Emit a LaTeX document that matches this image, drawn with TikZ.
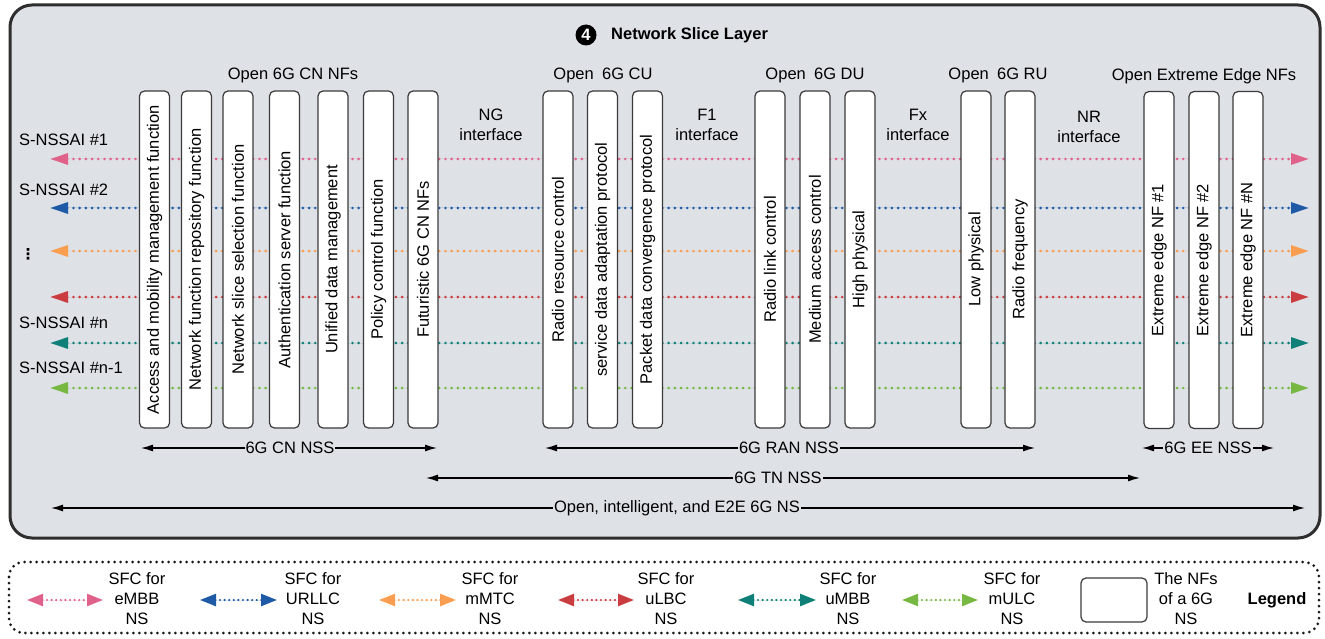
\documentclass[tikz,border=0pt]{standalone}
\usepackage{fontspec}
\setmainfont{Liberation Sans}
\newfontfamily\symfont{DejaVu Sans}
\usetikzlibrary{arrows.meta}

\definecolor{panelfill}{HTML}{DEE1E6}
\definecolor{panelline}{HTML}{2E2E2E}
\definecolor{boxline}{HTML}{3A3A3A}
\definecolor{cpink}{HTML}{E0628A}
\definecolor{cblue}{HTML}{1F5AA6}
\definecolor{corange}{HTML}{F99D51}
\definecolor{cred}{HTML}{CA3C3F}
\definecolor{cteal}{HTML}{0F8078}
\definecolor{cgreen}{HTML}{77B843}

\begin{document}
\begin{tikzpicture}[x=1pt,y=-1pt,
  every node/.style={font=\fontsize{16.5}{20}\selectfont, inner sep=0pt},
  nf/.style={draw=boxline, fill=white, line width=1.2pt, rounded corners=5pt,
    rotate=90, minimum width=337pt, minimum height=30pt, inner sep=0pt},
  slice/.style={line width=2.9pt, dash pattern=on 0pt off 6.2pt, line cap=round,
    {Triangle[length=18pt,width=11pt]}-{Triangle[length=18pt,width=11pt]}},
  keyslice/.style={line width=2.4pt, dash pattern=on 0pt off 4.6pt, line cap=round,
    {Triangle[length=16pt,width=12pt]}-{Triangle[length=16pt,width=12pt]}},
  span/.style={line width=1.3pt, {Latex[length=12pt,width=7pt]}-{Latex[length=12pt,width=7pt]}},
  spanlbl/.style={fill=panelfill, inner xsep=1pt, inner ysep=2pt},
  grp/.style={align=center},
  keytext/.style={align=center},
]
\useasboundingbox (0,0) rectangle (1325,639);

% layer panel
\draw[line width=3pt, draw=panelline, fill=panelfill, rounded corners=22pt]
  (10,5) rectangle (1320,538);

% title
\node[circle, fill=black, text=white, minimum size=21pt,
  font=\fontsize{16.5}{20}\selectfont\bfseries] (num) at (586,35) {4};
\node[anchor=west, font=\fontsize{16.5}{20}\selectfont\bfseries] (title) at (611,35) {Network Slice Layer};

% slice service function chains
\foreach \y/\c [count=\i] in {159/cpink, 208/cblue, 251/corange, 297/cred, 343/cteal, 388/cgreen}{
  \coordinate (sl\i) at (50,\y);
  \coordinate (sr\i) at (1309,\y);
  \draw[slice, draw=\c, fill=\c] (sl\i) -- (sr\i);
}

% slice identifiers
\node[anchor=west] (id1) at (19,140) {S-NSSAI \#1};
\node[anchor=west] (id2) at (19,190) {S-NSSAI \#2};
\node[font=\symfont\fontsize{15}{18}\selectfont\bfseries] (idd) at (28,254) {⋮};
\node[anchor=west] (idn) at (19,323) {S-NSSAI \#n};
\node[anchor=west] (idm) at (19,368) {S-NSSAI \#n-1};

% core network functions
\node[nf] (amf)  at (154.5,259.5) {Access and mobility management function};
\node[nf] (nrf)  at (196.5,259.5) {Network function repository function};
\node[nf] (nssf) at (238,259.5)   {Network slice selection function};
\node[nf] (ausf) at (284.5,259.5) {Authentication server function};
\node[nf] (udm)  at (333,259.5)   {Unified data management};
\node[nf] (pcf)  at (378.5,259.5) {Policy control function};
\node[nf] (fcn)  at (423,259.5)   {Futuristic 6G CN NFs};

% central unit
\node[nf] (rrc)  at (558,259.5)   {Radio resource control};
\node[nf] (sdap) at (602.5,259.5) {service data adaptation protocol};
\node[nf] (pdcp) at (647.5,259.5) {Packet data convergence protocol};

% distributed unit
\node[nf] (rlc)  at (770,259.5) {Radio link control};
\node[nf] (mac)  at (815,259.5) {Medium access control};
\node[nf] (hphy) at (860,259.5) {High physical};

% radio unit
\node[nf] (lphy) at (976,259.5)  {Low physical};
\node[nf] (rf)   at (1020,259.5) {Radio frequency};

% extreme edge
\node[nf] (ee1) at (1159,260) {Extreme edge NF \#1};
\node[nf] (ee2) at (1204,260) {Extreme edge NF \#2};
\node[nf] (een) at (1248,260) {Extreme edge NF \#N};

% group headings
\node[grp] (gcn) at (293,75)  {Open 6G CN NFs};
\node[grp] (gcu) at (603,75)  {Open\hspace{0.5em}6G CU};
\node[grp] (gdu) at (815,75)  {Open\hspace{0.5em}6G DU};
\node[grp] (gru) at (998,75)  {Open\hspace{0.5em}6G RU};
\node[grp] (gee) at (1204,76) {Open Extreme Edge NFs};

% interfaces
\node[grp] (ng) at (491,125)  {NG\\interface};
\node[grp] (f1) at (707,125)  {F1\\interface};
\node[grp] (fx) at (918,125)  {Fx\\interface};
\node[grp] (nr) at (1089,127) {NR\\interface};

% slice subnet spans
\coordinate (cnL) at (141,448);  \coordinate (cnR) at (437,448);
\coordinate (ranL) at (545,448); \coordinate (ranR) at (1035,448);
\coordinate (eeL) at (1142,448); \coordinate (eeR) at (1274,448);
\coordinate (tnL) at (426,478);  \coordinate (tnR) at (1140,478);
\coordinate (nsL) at (51,508);   \coordinate (nsR) at (1305,508);
\draw[span] (cnL) -- (cnR);
\draw[span] (ranL) -- (ranR);
\draw[span] (eeL) -- (eeR);
\draw[span] (tnL) -- (tnR);
\draw[span] (nsL) -- (nsR);
\node[spanlbl] (cnss)  at (290,448)  {6G CN NSS};
\node[spanlbl] (rnss)  at (789,448)  {6G RAN NSS};
\node[spanlbl] (enss)  at (1208,448) {6G EE NSS};
\node[spanlbl] (tnss)  at (778,478)  {6G TN NSS};
\node[spanlbl] (e2e)   at (677,508)  {Open, intelligent, and E2E 6G NS};

% legend
\draw[line width=3pt, dash pattern=on 0pt off 6pt, line cap=round, draw=black!90,
  rounded corners=15pt] (9,562) rectangle (1319,633);
\foreach \xa/\xb/\xt/\c/\name [count=\i] in
  {27/103/137/cpink/eMBB, 200/277/313/cblue/URLLC, 379/456/490/corange/mMTC,
   558/634/666/cred/uLBC, 738/816/848/cteal/uMBB, 902/978/1012/cgreen/mULC}{
  \coordinate (ka\i) at (\xa,600);
  \coordinate (kb\i) at (\xb,600);
  \draw[keyslice, draw=\c, fill=\c] (ka\i) -- (kb\i);
  \node[keytext] (kt\i) at (\xt,599) {SFC for\\\name\\NS};
}
\node[draw=boxline, fill=white, line width=1.2pt, rounded corners=5pt,
  minimum width=66pt, minimum height=44pt] (kbox) at (1114,600) {};
\node[keytext] (kboxt) at (1186,599) {The NFs\\of a 6G\\NS};
\node[font=\fontsize{16.5}{20}\selectfont\bfseries] (klbl) at (1277,600) {Legend};
\end{tikzpicture}
\end{document}
